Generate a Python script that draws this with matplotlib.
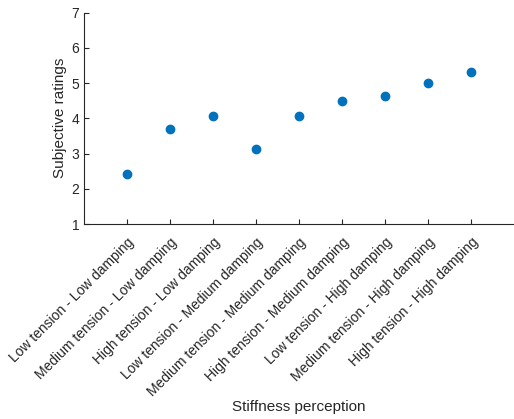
import matplotlib
matplotlib.use("Agg")
import matplotlib.pyplot as plt

categories = [
    "Low tension - Low damping",
    "Medium tension - Low damping",
    "High tension - Low damping",
    "Low tension - Medium damping",
    "Medium tension - Medium damping",
    "High tension - Medium damping",
    "Low tension - High damping",
    "Medium tension - High damping",
    "High tension - High damping",
]
ratings = [2.43, 3.69, 4.06, 3.12, 4.06, 4.50, 4.63, 5.00, 5.32]
yticks = [1, 2, 3, 4, 5, 6, 7]

plt.rcParams['font.family'] = ['Liberation Sans', 'DejaVu Sans']
gray = '#262626'

fig = plt.figure(figsize=(5.14, 4.19), dpi=100)
ax = fig.add_axes([83.5/514, 1 - 224/419, 1 - 83.5/514, (224 - 12.5)/419])

x = list(range(1, len(categories) + 1))
ax.plot(x, ratings, linestyle='none', marker='o', markersize=6,
        color='#0072BD', markeredgecolor='#0072BD')

ax.set_xlim(0, 10)
ax.set_ylim(1, 7)
ax.set_yticks(yticks)
ax.set_xticks(x)
ax.set_xticklabels(categories, rotation=45, ha='right', va='top',
                   rotation_mode='anchor')
for s in ['top', 'right']:
    ax.spines[s].set_visible(False)
for s in ['left', 'bottom']:
    ax.spines[s].set_color(gray)
    ax.spines[s].set_linewidth(0.8)
ax.tick_params(direction='in', length=3.5, width=0.8, colors=gray,
               labelsize=10, pad=3)
ax.tick_params(axis='x', pad=8)
ax.set_ylabel('Subjective ratings', fontsize=11, color=gray, labelpad=3)
ax.set_xlabel('Stiffness perception', fontsize=11, color=gray)
ax.xaxis.set_label_coords(0.5, (224 - 400) / 211.5)

fig.savefig('out.png', dpi=100)
